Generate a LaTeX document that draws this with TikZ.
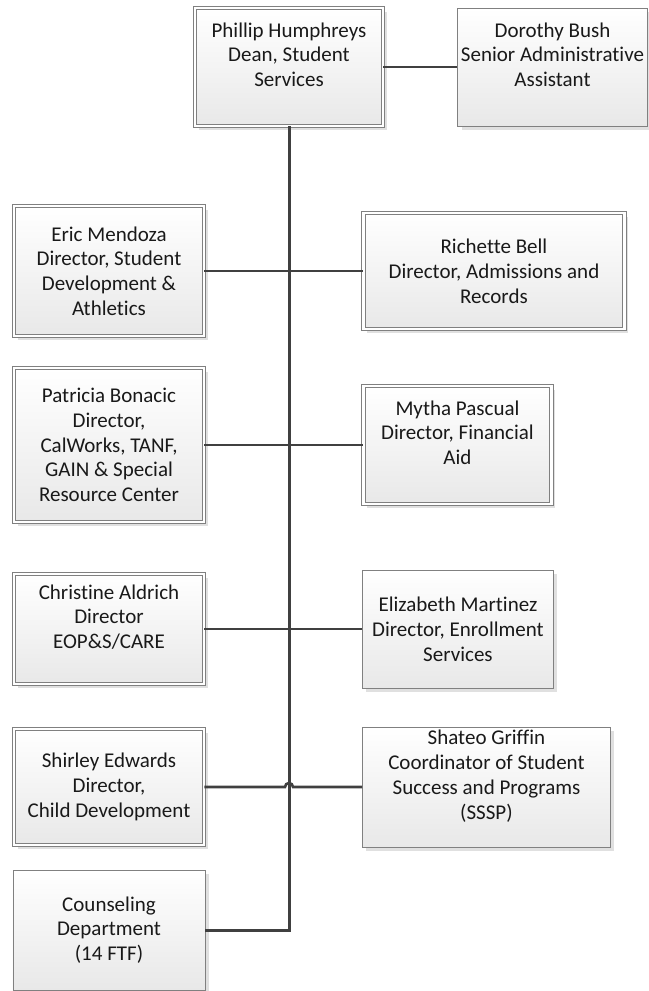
\documentclass[tikz,border=0pt]{standalone}
\usepackage{fontspec}
\setmainfont{Carlito}[Ligatures=NoCommon]
\usetikzlibrary{shadows}

\def\xl{109}
\def\xt{289}
\def\xr{362}
\def\lw{2.6bp}

\begin{document}
\begin{tikzpicture}[x=1bp,y=-1bp,
 box/.style={rectangle, draw=black!50, line width=0.9bp, top color=white, bottom color=black!9,
   align=center, inner sep=0pt, text=black!90, font=\fontsize{21bp}{24.8bp}\selectfont,
   drop shadow={shadow xshift=4bp, shadow yshift=-4bp, fill=black!12, opacity=1}},
 dbox/.style={box, double=white, double distance=2.4bp},
 link/.style={draw=black!75, line width=\lw}]
 \useasboundingbox (0,0) rectangle (649,991);

 \node[dbox, minimum width=188bp, minimum height=118bp] (Ph) at (\xt,67) {Phillip Humphreys\\Dean, Student\\Services\\\mbox{}};
 \node[box, minimum width=190bp, minimum height=118bp] (Do) at (552.5,67) {Dorothy Bush\\Senior Administrative\\Assistant\\\mbox{}};

 \node[dbox, minimum width=190bp, minimum height=130bp] (Er) at (\xl,271) {Eric Mendoza\\Director, Student\\Development \&\\Athletics};
 \node[dbox, anchor=west, minimum width=261bp, minimum height=116bp] (Ri) at (\xr+1,271) {Richette Bell\\Director, Admissions and\\Records};

 \node[dbox, minimum width=190bp, minimum height=154bp] (Pa) at (\xl,445) {Patricia Bonacic\\Director,\\CalWorks, TANF,\\GAIN \& Special\\Resource Center};
 \node[dbox, anchor=west, minimum width=188bp, minimum height=118bp] (My) at (\xr+1,445) {Mytha Pascual\\Director, Financial\\Aid\\\mbox{}};

 \node[dbox, minimum width=190bp, minimum height=110bp] (Ch) at (\xl,629) {Christine Aldrich\\Director\\EOP\&S/CARE\\\mbox{}};
 \node[box, anchor=west, minimum width=191bp, minimum height=118bp] (El) at (\xr,629) {Elizabeth Martinez\\Director, Enrollment\\Services};

 \node[dbox, minimum width=190bp, minimum height=116bp] (Sh) at (\xl,787) {Shirley Edwards\\Director,\\Child Development};
 \node[box, anchor=west, minimum width=248bp, minimum height=120bp] (Sg) at (\xr,787) {Shateo Griffin\\Coordinator of Student\\Success and Programs\\(SSSP)\\\mbox{}};

 \node[box, minimum width=192bp, minimum height=120bp] (Co) at (\xl,930) {Counseling\\Department\\(14 FTF)};

 \draw[link] (Ph.east) -- (Do.west);
 \draw[link, line width=3bp] (Ph.south) |- (Co.east);
 \draw[link] (Er.east) -- (Ri.west);
 \draw[link] (Pa.east) -- (My.west);
 \draw[link] (Ch.east) -- (El.west);
 % kleiner Bogen ueber der Hauptlinie
 \draw[link] (Sh.east) -- (\xt-4,787) arc[start angle=180, end angle=360, x radius=4, y radius=4] -- (Sg.west);
\end{tikzpicture}
\end{document}
